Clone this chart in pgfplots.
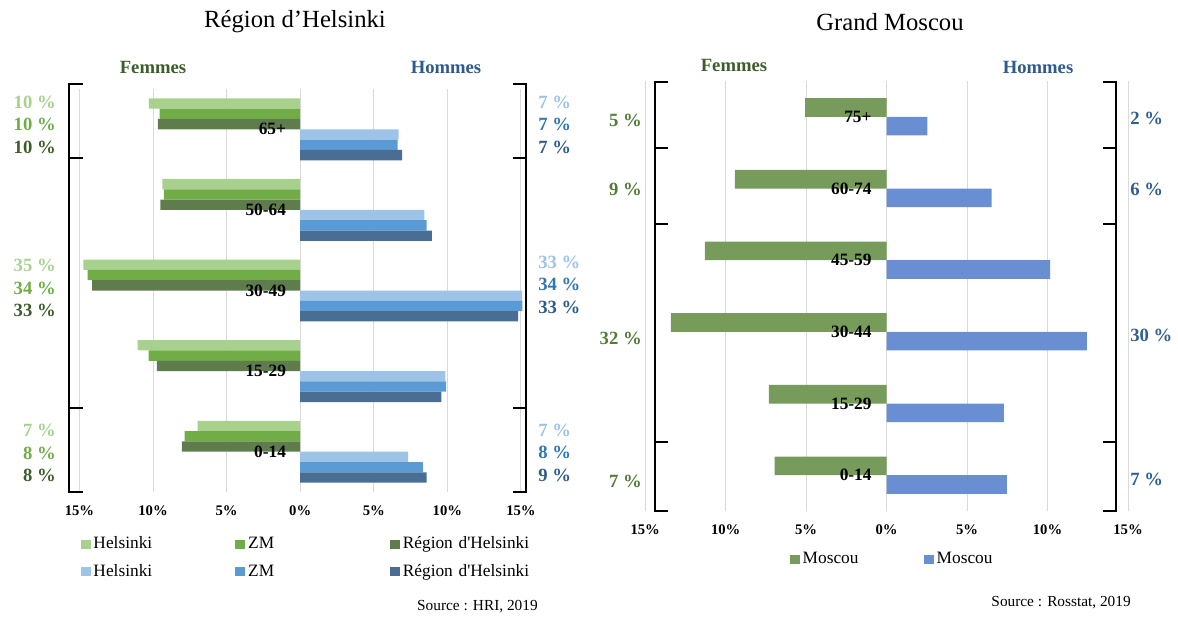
\documentclass[border=0pt]{standalone}
\usepackage{fontspec}
\setmainfont{Liberation Serif}[Ligatures=TeXOff]
\usepackage{pgfplots}
\pgfplotsset{compat=1.18}
\definecolor{hgL}{HTML}{A9D18E}
\definecolor{hgM}{HTML}{70AD47}
\definecolor{hgD}{HTML}{5F7D4C}
\definecolor{hbL}{HTML}{9DC3E6}
\definecolor{hbM}{HTML}{5B9BD5}
\definecolor{hbD}{HTML}{4A6D94}
\definecolor{mg}{HTML}{779B5B}
\definecolor{mb}{HTML}{6A8ED2}
\definecolor{tgD}{HTML}{3D5E2C}
\definecolor{tbM}{HTML}{2E75B6}
\definecolor{tbD}{HTML}{2F5B8B}
\definecolor{rg}{HTML}{557A38}
\definecolor{rb}{HTML}{2F5F90}
\definecolor{gridc}{HTML}{D9D9D9}
\pgfplotsset{
  pyr/.style={
    scale only axis, clip=false,
    xmin=-15, xmax=15,
    axis line style={draw=none},
    major tick length=0pt,
    ytick=\empty,
    xtick={-15,-10,-5,0,5,10,15},
    xticklabels={15\%,10\%,5\%,0\%,5\%,10\%,15\%},
    xmajorgrids, grid style={gridc, line width=0.75pt},
    /pgf/number format/assume math mode=true,
    xticklabel style={font=\bfseries\fontsize{11}{11}\selectfont, anchor=center, yshift=-14.25pt},
    legend cell align=left,
    legend image code/.code={\fill[##1] (0pt,-3.2pt) rectangle (7.5pt,3.6pt);},
  },
}
\tikzset{agelab/.style={anchor=east, inner sep=0pt, font=\bfseries\fontsize{13}{13}\selectfont}}
\begin{document}
\begin{tikzpicture}
\useasboundingbox (0,0) rectangle (883.5pt,-462.75pt);
% ---------------- Left chart: Région d'Helsinki
\begin{axis}[pyr, at={(59.625pt,-369pt)}, anchor=south west,
  width=331.1pt, height=302.25pt, ymin=-0.5, ymax=4.5,
  legend columns=3,
  legend style={at={(0.003,-0.111)}, anchor=north west, draw=none, fill=none,
    inner sep=0pt, outer sep=0pt, row sep=8.55pt, column sep=0pt,
    font=\fontsize{13}{13}\selectfont,
    nodes={inner xsep=2pt, inner ysep=0pt, text height=9pt, text depth=3pt, text width=104.5pt, align=left}},
]
\addplot[xbar, bar shift=0pt, bar width=0.128, fill=hgL, draw=none]
  coordinates {(-10.28,4.32) (-9.36,3.32) (-14.74,2.32) (-11.05,1.32) (-6.97,0.32)};
\addlegendentry{Helsinki}
\addplot[xbar, bar shift=0pt, bar width=0.128, fill=hgM, draw=none]
  coordinates {(-9.56,4.192) (-9.26,3.192) (-14.44,2.192) (-10.30,1.192) (-7.85,0.192)};
\addlegendentry{ZM}
\addplot[xbar, bar shift=0pt, bar width=0.128, fill=hgD, draw=none]
  coordinates {(-9.67,4.064) (-9.51,3.064) (-14.15,2.064) (-9.74,1.064) (-8.05,0.064)};
\addlegendentry{Région d'Helsinki}
\addplot[xbar, bar shift=0pt, bar width=0.128, fill=hbL, draw=none]
  coordinates {(6.69,3.936) (8.44,2.936) (15.08,1.936) (9.87,0.936) (7.33,-0.064)};
\addlegendentry{Helsinki}
\addplot[xbar, bar shift=0pt, bar width=0.128, fill=hbM, draw=none]
  coordinates {(6.62,3.808) (8.59,2.808) (15.10,1.808) (9.92,0.808) (8.33,-0.192)};
\addlegendentry{ZM}
\addplot[xbar, bar shift=0pt, bar width=0.128, fill=hbD, draw=none]
  coordinates {(6.92,3.68) (8.95,2.68) (14.80,1.68) (9.59,0.68) (8.59,-0.32)};
\addlegendentry{Région d'Helsinki}
\node[agelab] at (axis cs:-0.95,4) {65+};
\node[agelab] at (axis cs:-0.95,3) {50-64};
\node[agelab] at (axis cs:-0.95,2) {30-49};
\node[agelab] at (axis cs:-0.95,1) {15-29};
\node[agelab] at (axis cs:-0.95,0) {0-14};
\end{axis}
% ---------------- Right chart: Grand Moscou
\begin{axis}[pyr, at={(483.9pt,-383.25pt)}, anchor=south west,
  width=362.1pt, height=322.5pt, ymin=-0.5, ymax=5.5,
  legend columns=2,
  legend style={at={(0.3,-0.0947)}, anchor=north west, draw=none, fill=none,
    inner sep=0pt, outer sep=0pt, column sep=0pt,
    font=\fontsize{13}{13}\selectfont,
    nodes={inner xsep=2pt, inner ysep=0pt, text height=9pt, text depth=3pt, text width=89pt, align=left}},
]
\addplot[xbar, bar shift=0pt, bar width=0.26, fill=mg, draw=none]
  coordinates {(-5.07,5.13) (-9.43,4.13) (-11.30,3.13) (-13.40,2.13) (-7.32,1.13) (-6.96,0.13)};
\addlegendentry{Moscou}
\addplot[xbar, bar shift=0pt, bar width=0.26, fill=mb, draw=none]
  coordinates {(2.53,4.87) (6.52,3.87) (10.16,2.87) (12.44,1.87) (7.29,0.87) (7.47,-0.13)};
\addlegendentry{Moscou}
\node[agelab] at (axis cs:-0.92,5) {75+};
\node[agelab] at (axis cs:-0.92,4) {60-74};
\node[agelab] at (axis cs:-0.92,3) {45-59};
\node[agelab] at (axis cs:-0.92,2) {30-44};
\node[agelab] at (axis cs:-0.92,1) {15-29};
\node[agelab] at (axis cs:-0.92,0) {0-14};
\end{axis}
% ---------------- Annotations (pixel coordinates)
\begin{scope}[x=0.75pt, y=-0.75pt]
\node[font=\fontsize{18.5}{20}\selectfont] at (295,22) {Région d’Helsinki};
\node[font=\fontsize{18.5}{20}\selectfont] at (890,22) {Grand Moscou};
\begin{scope}[font=\bfseries\fontsize{14}{14}\selectfont]
\node[text=tgD] at (153,67) {Femmes};
\node[text=tbD] at (446,67) {Hommes};
\node[text=tgD] at (734,65) {Femmes};
\node[text=tbD] at (1038,67) {Hommes};
% left-hand labels
\begin{scope}[every node/.style={anchor=east, inner sep=0pt}]
\node[text=hgL] at (56,102.5) {10~\%};
\node[text=hgM] at (56,124.5) {10~\%};
\node[text=tgD] at (56,147) {10~\%};
\node[text=hgL] at (56,265) {35~\%};
\node[text=hgM] at (56,288) {34~\%};
\node[text=tgD] at (56,310) {33~\%};
\node[text=hgL] at (56,430) {7~\%};
\node[text=hgM] at (56,453) {8~\%};
\node[text=tgD] at (56,475.5) {8~\%};
\node[text=rg] at (642,120) {5~\%};
\node[text=rg] at (642,189) {9~\%};
\node[text=rg] at (642,338) {32~\%};
\node[text=rg] at (642,481) {7~\%};
\end{scope}
\begin{scope}[every node/.style={anchor=west, inner sep=0pt}]
\node[text=hbL] at (538,102) {7~\%};
\node[text=tbM] at (538,124) {7~\%};
\node[text=tbD] at (538,147) {7~\%};
\node[text=hbL] at (538,262) {33~\%};
\node[text=tbM] at (538,284) {34~\%};
\node[text=tbD] at (538,307) {33~\%};
\node[text=hbL] at (538,430) {7~\%};
\node[text=tbM] at (538,452) {8~\%};
\node[text=tbD] at (538,475) {9~\%};
\node[text=rb] at (1130,118) {2~\%};
\node[text=rb] at (1130,189) {6~\%};
\node[text=rb] at (1130,335) {30~\%};
\node[text=rb] at (1130,479) {7~\%};
\end{scope}
\end{scope}
% brackets
\begin{scope}[line width=1.7pt, line join=miter]
\draw (83,84) -- (69,84) -- (69,492) -- (83,492);
\draw (69,158) -- (83,158); \draw (69,408) -- (83,408);
\draw (513,84) -- (526,84) -- (526,492) -- (513,492);
\draw (526,158) -- (513,158); \draw (526,408) -- (513,408);
\draw (668,82) -- (655,82) -- (655,511) -- (668,511);
\draw (655,148) -- (668,148); \draw (655,224) -- (668,224); \draw (655,442) -- (668,442);
\draw (1103,82) -- (1116,82) -- (1116,511) -- (1103,511);
\draw (1116,148) -- (1103,148); \draw (1116,224) -- (1103,224); \draw (1116,442) -- (1103,442);
\end{scope}
\node[anchor=east, inner sep=0pt, font=\fontsize{11.5}{12}\selectfont] at (538,606.5) {Source : HRI, 2019};
\node[anchor=east, inner sep=0pt, font=\fontsize{11.5}{12}\selectfont] at (1131,603) {Source : Rosstat, 2019};
\end{scope}
\end{tikzpicture}
\end{document}
